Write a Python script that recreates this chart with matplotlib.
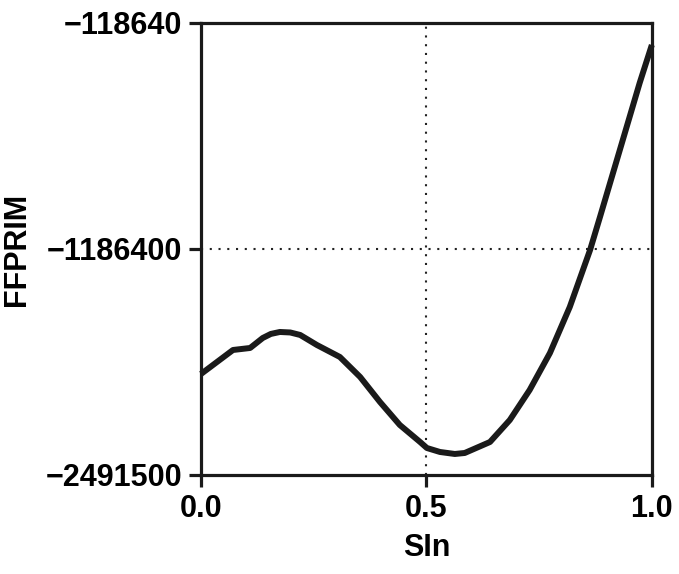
import matplotlib.pyplot as plt

# curve
sln = [0.0, 0.0355, 0.071, 0.109, 0.137, 0.155, 0.175, 0.198, 0.220, 0.257,
       0.308, 0.353, 0.397, 0.441, 0.486, 0.501, 0.530, 0.563, 0.585, 0.641,
       0.685, 0.729, 0.774, 0.818, 0.863, 0.885, 0.929, 0.973, 1.0]
ffprim = [-1961300, -1898300, -1835300, -1824800, -1772300, -1751000, -1740800,
          -1743400, -1756500, -1809000, -1872000, -1977000, -2108300, -2229000,
          -2318300, -2349800, -2370700, -2381200, -2376000, -2318300, -2202800,
          -2045300, -1851000, -1609500, -1310300, -1137100, -785400, -433600,
          -234100]

ymin, ymax = -2491500, -118640
ytick_labels = ["\u22122491500", "\u22121186400", "\u2212118640"]
xticks = [0.0, 0.5, 1.0]
xtick_labels = ["0.0", "0.5", "1.0"]

plt.rcParams["font.family"] = ["Liberation Sans", "DejaVu Sans"]
plt.rcParams["font.weight"] = "bold"

fig = plt.figure(figsize=(6.79, 5.74), dpi=100)
ax = fig.add_axes([0.296, 0.1725, 0.664, 0.7875])

ymid = (ymin + ymax) / 2
ax.axvline(0.5, color="#222222", lw=1.5, ls=(0, (1, 3.2)))
ax.axhline(ymid, color="#222222", lw=1.5, ls=(0, (1, 3.2)))
ax.plot(sln, ffprim, color="#1a1a1a", lw=4.3, solid_capstyle="butt",
        solid_joinstyle="round", clip_on=False)

ax.set_xlim(0, 1)
ax.set_ylim(ymin, ymax)
ax.set_xticks(xticks)
ax.set_xticklabels(xtick_labels)
ax.set_yticks([ymin, ymid, ymax])
ax.set_yticklabels(ytick_labels)

for s in ax.spines.values():
    s.set_linewidth(2.3)
    s.set_color("#1a1a1a")
ax.tick_params(width=2.3, length=8.5, labelsize=22, pad=5, color="#1a1a1a")

ax.set_xlabel("SIn", fontsize=22, fontweight="bold", labelpad=7)
ax.set_ylabel("FFPRIM", fontsize=22, fontweight="bold", labelpad=10)

fig.savefig("out.png", dpi=100)
